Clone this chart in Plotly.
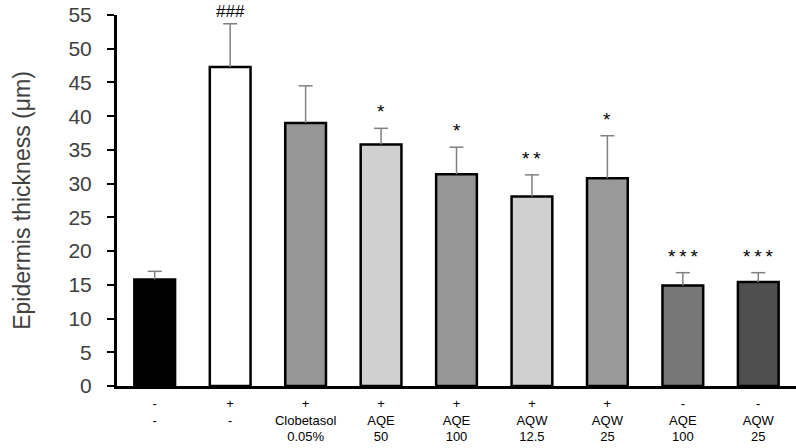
import plotly.graph_objects as go

categories = ["-<br>-", "+<br>-", "+<br>Clobetasol<br>0.05%", "+<br>AQE<br>50",
              "+<br>AQE<br>100", "+<br>AQW<br>12.5", "+<br>AQW<br>25", "-<br>AQE<br>100", "-<br>AQW<br>25"]
values = [15.8, 47.3, 39.0, 35.8, 31.4, 28.1, 30.8, 14.9, 15.4]
errors = [1.2, 6.4, 5.5, 2.4, 4.0, 3.2, 6.3, 1.9, 1.4]
signif = ["", "###", "", "*", "*", "**", "*", "***", "***"]
colors = ["#000000", "#ffffff", "#969696", "#d0d0d0", "#969696", "#d0d0d0", "#9a9a9a", "#777777", "#4f4f4f"]

x = list(range(len(categories)))
tops = [v + e for v, e in zip(values, errors)]

fig = go.Figure()
fig.add_trace(go.Bar(
    x=x, y=values, width=0.54,
    marker=dict(color=colors, line=dict(color="#000000", width=2.5)),
))

# error bar stems (upward only)
sx, sy = [], []
for xi, v, t in zip(x, values, tops):
    sx += [xi, xi, None]
    sy += [v, t, None]
fig.add_trace(go.Scatter(x=sx, y=sy, mode="lines", line=dict(color="#808080", width=1.5),
                         hoverinfo="skip"))
# error bar caps
fig.add_trace(go.Scatter(x=x, y=tops, mode="markers",
                         marker=dict(symbol="line-ew", size=10, line=dict(color="#808080", width=1.5)),
                         hoverinfo="skip"))

for xi, t, s in zip(x, tops, signif):
    if s:
        star = s.startswith("*")
        fig.add_annotation(x=xi, y=t, text="\u2009".join(s) if star else s, showarrow=False,
                           yanchor="bottom", yshift=4 if star else 1,
                           font=dict(family="Liberation Sans", size=19 if star else 17, color="#000000"))

fig.update_layout(
    width=796, height=448,
    margin=dict(l=117, r=0, t=15, b=62),
    paper_bgcolor="#ffffff", plot_bgcolor="#ffffff",
    showlegend=False,
    font=dict(family="Liberation Sans", color="#000000"),
)
fig.update_xaxes(
    range=[-0.5, 8.5], tickmode="array", tickvals=x, ticktext=categories,
    showline=True, linecolor="#000000", linewidth=3, ticks="", showgrid=False, zeroline=False,
    tickfont=dict(size=13, color="#000000"), tickangle=0, automargin=False, ticklabelstandoff=3,
)
fig.update_yaxes(
    range=[0, 55], dtick=5, showline=True, linecolor="#000000", linewidth=3,
    ticks="outside", ticklen=7, tickwidth=2, tickcolor="#000000", showgrid=False, zeroline=False,
    tickfont=dict(size=21, color="#404040"), ticklabelstandoff=11, automargin=False,
    ticklabeloverflow="allow",
    title=dict(text="Epidermis thickness (μm)", font=dict(size=23, color="#404040"), standoff=32),
)

fig.write_html("out.html", config={"displayModeBar": False},
               post_script="document.body.style.margin='0';document.body.style.overflow='hidden';")
